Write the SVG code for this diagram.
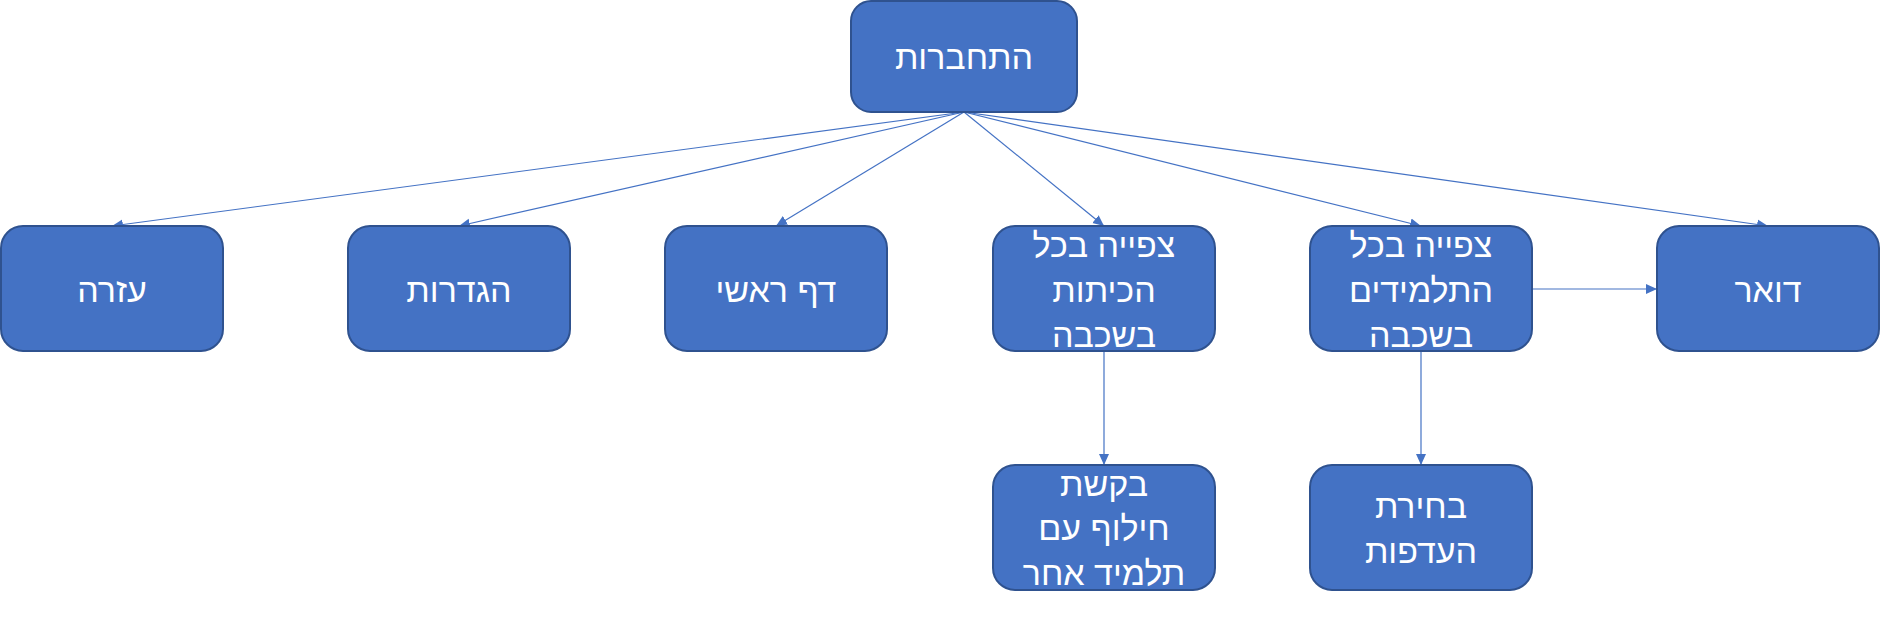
<svg xmlns="http://www.w3.org/2000/svg" width="1880" height="618" viewBox="0 0 1880 618">
<style>
.box{fill:#4472C4;stroke:#2F528F;stroke-width:2}
.lbl{fill:#ffffff;font-family:"Liberation Sans","DejaVu Sans",sans-serif;font-size:34px;text-anchor:middle}
.conn{stroke:#4472C4;stroke-width:1.2;fill:none;marker-end:url(#arr)}
</style>
<defs>
<marker id="arr" markerUnits="userSpaceOnUse" markerWidth="12" markerHeight="12" viewBox="0 0 12 12" refX="11" refY="6" orient="auto">
<path d="M0,1 L11,6 L0,11 Z" fill="#4472C4"/>
</marker>
</defs>
<rect width="1880" height="618" fill="#ffffff"/>
<g id="connectors">
<line class="conn" x1="964" y1="112" x2="112" y2="226"/>
<line class="conn" x1="964" y1="112" x2="459" y2="226"/>
<line class="conn" x1="964" y1="112" x2="776" y2="226"/>
<line class="conn" x1="964" y1="112" x2="1104" y2="226"/>
<line class="conn" x1="964" y1="112" x2="1421" y2="226"/>
<line class="conn" x1="964" y1="112" x2="1768" y2="226"/>
<line class="conn" x1="1104" y1="351" x2="1104" y2="465"/>
<line class="conn" x1="1421" y1="351" x2="1421" y2="465"/>
<line class="conn" x1="1532" y1="289" x2="1657" y2="289"/>
</g>
<g id="root">
<rect class="box" x="851" y="1" width="226" height="111" rx="20"/>
<text class="lbl" x="964" y="69">התחברות</text>
</g>
<g id="help">
<rect class="box" x="1" y="226" width="222" height="125" rx="22"/>
<text class="lbl" x="112" y="302">עזרה</text>
</g>
<g id="settings">
<rect class="box" x="348" y="226" width="222" height="125" rx="22"/>
<text class="lbl" x="459" y="302">הגדרות</text>
</g>
<g id="home">
<rect class="box" x="665" y="226" width="222" height="125" rx="22"/>
<text class="lbl" x="776" y="302">דף ראשי</text>
</g>
<g id="classes">
<rect class="box" x="993" y="226" width="222" height="125" rx="22"/>
<text class="lbl" x="1104" y="257">צפייה בכל</text>
<text class="lbl" x="1104" y="302">הכיתות</text>
<text class="lbl" x="1104" y="347">בשכבה</text>
</g>
<g id="students">
<rect class="box" x="1310" y="226" width="222" height="125" rx="22"/>
<text class="lbl" x="1421" y="257">צפייה בכל</text>
<text class="lbl" x="1421" y="302">התלמידים</text>
<text class="lbl" x="1421" y="347">בשכבה</text>
</g>
<g id="mail">
<rect class="box" x="1657" y="226" width="222" height="125" rx="22"/>
<text class="lbl" x="1768" y="302">דואר</text>
</g>
<g id="swap">
<rect class="box" x="993" y="465" width="222" height="125" rx="22"/>
<text class="lbl" x="1104" y="496">בקשת</text>
<text class="lbl" x="1104" y="540">חילוף עם</text>
<text class="lbl" x="1104" y="585">תלמיד אחר</text>
</g>
<g id="prefs">
<rect class="box" x="1310" y="465" width="222" height="125" rx="22"/>
<text class="lbl" x="1421" y="518">בחירת</text>
<text class="lbl" x="1421" y="563">העדפות</text>
</g>
</svg>
